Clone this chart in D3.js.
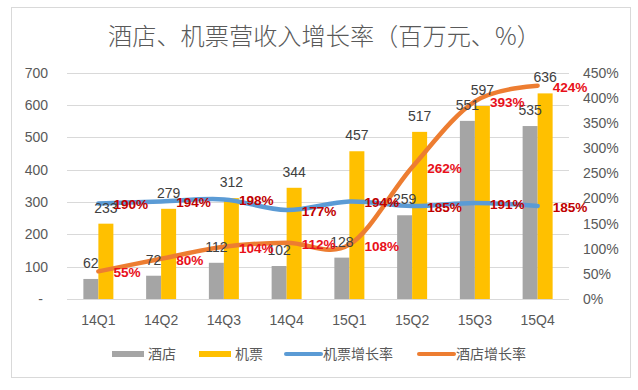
<!DOCTYPE html>
<html><head><meta charset="utf-8">
<script src="https://cdn.jsdelivr.net/npm/d3@7"></script>
<style>body{margin:0;background:#fff}svg{display:block}</style>
</head><body><svg id="c" width="638" height="390"></svg>
<script>
const categories = ["14Q1","14Q2","14Q3","14Q4","15Q1","15Q2","15Q3","15Q4"];
const hotelRevenue = [62,72,112,102,128,259,551,535];
const airRevenue = [233,279,312,344,457,517,597,636];
const airGrowth = [190,194,198,177,194,185,191,185];
const hotelGrowth = [55,80,104,112,108,262,393,424];
const leftTicks = [0,100,200,300,400,500,600,700];
const rightTicks = [0,50,100,150,200,250,300,350,400,450];
const title = "酒店、机票营收入增长率（百万元、%）";
const legendItems = ["酒店","机票","机票增长率","酒店增长率"];

const colors = {hotel:"#A5A5A5", air:"#FFC000", airLine:"#5B9BD5", hotelLine:"#ED7D31"};
const svg = d3.select("#c");
const font = "'Liberation Sans', Arial, sans-serif";
const cjk = "'Noto Sans CJK SC', sans-serif";

// border
svg.append("rect").attr("x",11.5).attr("y",7.5).attr("width",619).attr("height",370)
  .attr("fill","none").attr("stroke","#D9D9D9").attr("stroke-width",1);

const x = d3.scaleBand().domain(categories).range([67,569]).padding(0);
const yL = d3.scaleLinear().domain([0,700]).range([299,72.7]);
const yR = d3.scaleLinear().domain([0,450]).range([299,72.7]);
const cx = c => x(c) + x.bandwidth()/2;
const bw = 15;

// gridlines
svg.append("g").selectAll("line").data(leftTicks).join("line")
  .attr("x1",67).attr("x2",569).attr("y1",d=>Math.round(yL(d))+0.5).attr("y2",d=>Math.round(yL(d))+0.5)
  .attr("stroke","#D9D9D9").attr("stroke-width",1);

// left axis labels
svg.append("g").selectAll("text").data(leftTicks).join("text")
  .attr("x",d=>d===0?43:48).attr("y",d=>yL(d)).attr("dy","0.36em")
  .attr("text-anchor","end").attr("font-family",font).attr("font-size",14).attr("fill","#595959")
  .text(d=>d===0?"-":d);

// right axis labels
svg.append("g").selectAll("text").data(rightTicks).join("text")
  .attr("x",583).attr("y",d=>yR(d)).attr("dy","0.36em")
  .attr("text-anchor","start").attr("font-family",font).attr("font-size",14).attr("fill","#595959")
  .text(d=>d+"%");

// x axis labels
svg.append("g").selectAll("text").data(categories).join("text")
  .attr("x",d=>cx(d)).attr("y",325)
  .attr("text-anchor","middle").attr("font-family",font).attr("font-size",14).attr("fill","#595959")
  .text(d=>d);

// bars
svg.append("g").selectAll("rect").data(categories).join("rect")
  .attr("x",d=>cx(d)-bw).attr("width",bw)
  .attr("y",(d,i)=>yL(hotelRevenue[i])).attr("height",(d,i)=>yL(0)-yL(hotelRevenue[i]))
  .attr("fill",colors.hotel);
svg.append("g").selectAll("rect").data(categories).join("rect")
  .attr("x",d=>cx(d)).attr("width",bw)
  .attr("y",(d,i)=>yL(airRevenue[i])).attr("height",(d,i)=>yL(0)-yL(airRevenue[i]))
  .attr("fill",colors.air);

// lines
const line = d3.line().curve(d3.curveCardinal.tension(0));
svg.append("path").attr("d",line(categories.map((c,i)=>[cx(c),yR(airGrowth[i])])))
  .attr("fill","none").attr("stroke",colors.airLine).attr("stroke-width",4.5).attr("stroke-linecap","round").attr("stroke-linejoin","round");
svg.append("path").attr("d",line(categories.map((c,i)=>[cx(c),yR(hotelGrowth[i])])))
  .attr("fill","none").attr("stroke",colors.hotelLine).attr("stroke-width",4.5).attr("stroke-linecap","round").attr("stroke-linejoin","round");

// bar value labels
svg.append("g").selectAll("text").data(categories).join("text")
  .attr("x",d=>cx(d)-bw/2).attr("y",(d,i)=>yL(hotelRevenue[i])-11)
  .attr("text-anchor","middle").attr("font-family",font).attr("font-size",14).attr("fill","#404040")
  .text((d,i)=>hotelRevenue[i]);
svg.append("g").selectAll("text").data(categories).join("text")
  .attr("x",d=>cx(d)+bw/2).attr("y",(d,i)=>yL(airRevenue[i])-11)
  .attr("text-anchor","middle").attr("font-family",font).attr("font-size",14).attr("fill","#404040")
  .text((d,i)=>airRevenue[i]);

// percent labels
svg.append("g").selectAll("text").data(categories).join("text")
  .attr("x",d=>cx(d)+15).attr("y",(d,i)=>yR(airGrowth[i])+1).attr("dy","0.36em")
  .attr("font-family",font).attr("font-size",13.6).attr("font-weight","bold").attr("fill","#C00000")
  .text((d,i)=>airGrowth[i]+"%");
svg.append("g").selectAll("text").data(categories).join("text")
  .attr("x",d=>cx(d)+15).attr("y",(d,i)=>yR(hotelGrowth[i])+1).attr("dy","0.36em")
  .attr("font-family",font).attr("font-size",13.6).attr("font-weight","bold").attr("fill","#E8101A")
  .text((d,i)=>hotelGrowth[i]+"%");

// title
svg.append("text").attr("x",108).attr("y",44.5).attr("font-family",cjk).attr("font-weight",300)
  .attr("font-size",24.2).attr("fill","#595959").text(title);

// legend
const lg = svg.append("g");
const lx = [112,199,285,418];
const lc = [colors.hotel,colors.air,colors.airLine,colors.hotelLine];
legendItems.forEach((t,i)=>{
  if(i<2){
    lg.append("rect").attr("x",lx[i]).attr("y",351).attr("width",32).attr("height",6).attr("fill",lc[i]);
  } else {
    lg.append("line").attr("x1",lx[i]+1).attr("x2",lx[i]+36).attr("y1",354).attr("y2",354)
      .attr("stroke",lc[i]).attr("stroke-width",4).attr("stroke-linecap","round");
  }
  lg.append("text").attr("x",lx[i]+(i<2?36:38)).attr("y",354).attr("dy","0.36em")
    .attr("font-family",cjk).attr("font-size",14).attr("fill","#595959").text(t);
});
</script></body></html>
